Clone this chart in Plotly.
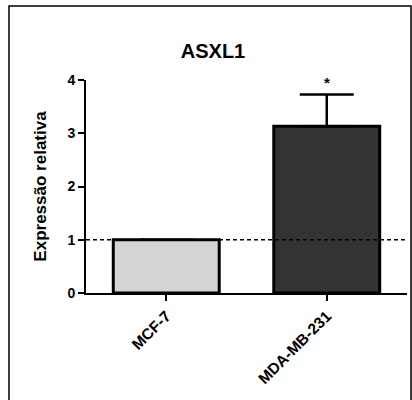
import plotly.graph_objects as go

categories = ["MCF-7", "MDA-MB-231"]
values = [1.0, 3.13]
err_plus = [0.0, 0.60]
bar_colors = ["#d4d4d4", "#333333"]
significance = ["", "*"]
y_ticks = [0, 1, 2, 3, 4]
reference_level = 1.0
title = "ASXL1"
y_title = "Expressão relativa"

font = "Liberation Sans, Arial, sans-serif"

fig = go.Figure()
fig.add_trace(go.Bar(
    x=categories, y=values,
    width=0.66,
    marker=dict(color=bar_colors, line=dict(color="black", width=3)),
    error_y=dict(type="data", symmetric=False, array=err_plus,
                 arrayminus=[0, 0], color="black", thickness=2.5, width=27,
                 visible=True),
    showlegend=False,
))

for c, v, e, s in zip(categories, values, err_plus, significance):
    if s:
        fig.add_annotation(x=c, y=v + e, text=s, showarrow=False,
                           yanchor="bottom", yshift=1,
                           font=dict(family=font, size=15, color="black", weight="bold"))

fig.add_shape(type="line", xref="paper", yref="y", x0=0, x1=1,
              y0=reference_level, y1=reference_level,
              line=dict(color="black", width=1.6, dash="4px,3px"), layer="above")

# outer frame
fig.add_shape(type="rect", xref="paper", yref="paper",
              x0=-0.2399, x1=1.0125, y0=-0.52, y1=1.347,
              line=dict(color="black", width=1.5), fillcolor="rgba(0,0,0,0)")

fig.update_layout(
    width=412, height=400,
    margin=dict(l=86, r=5, t=80, b=107),
    paper_bgcolor="white", plot_bgcolor="white",
    title=dict(text=title, x=213 / 412, xref="container", xanchor="center",
               y=1 - 51 / 400, yref="container", yanchor="middle",
               font=dict(family=font, size=20, color="black", weight="bold")),
    font=dict(family=font, color="black"),
)

fig.update_xaxes(
    range=[-0.5, 1.5], showline=True, linecolor="black", linewidth=2,
    ticks="outside", ticklen=6, tickwidth=2, tickcolor="black",
    tickangle=-45, tickfont=dict(family=font, size=15.5, color="black", weight="bold"),
    showgrid=False, zeroline=False,
)
fig.update_yaxes(
    range=[0, 4], tickvals=y_ticks, showline=True, linecolor="black", linewidth=2,
    ticks="outside", ticklen=6, tickwidth=2, tickcolor="black",
    tickfont=dict(family=font, size=14, color="black", weight="bold"),
    showgrid=False, zeroline=False,
    title=dict(text=y_title, standoff=16,
               font=dict(family=font, size=17, color="black", weight="bold")),
)

fig.write_html("out.html", config={"displayModeBar": False},
               post_script="document.body.style.margin='0';")
